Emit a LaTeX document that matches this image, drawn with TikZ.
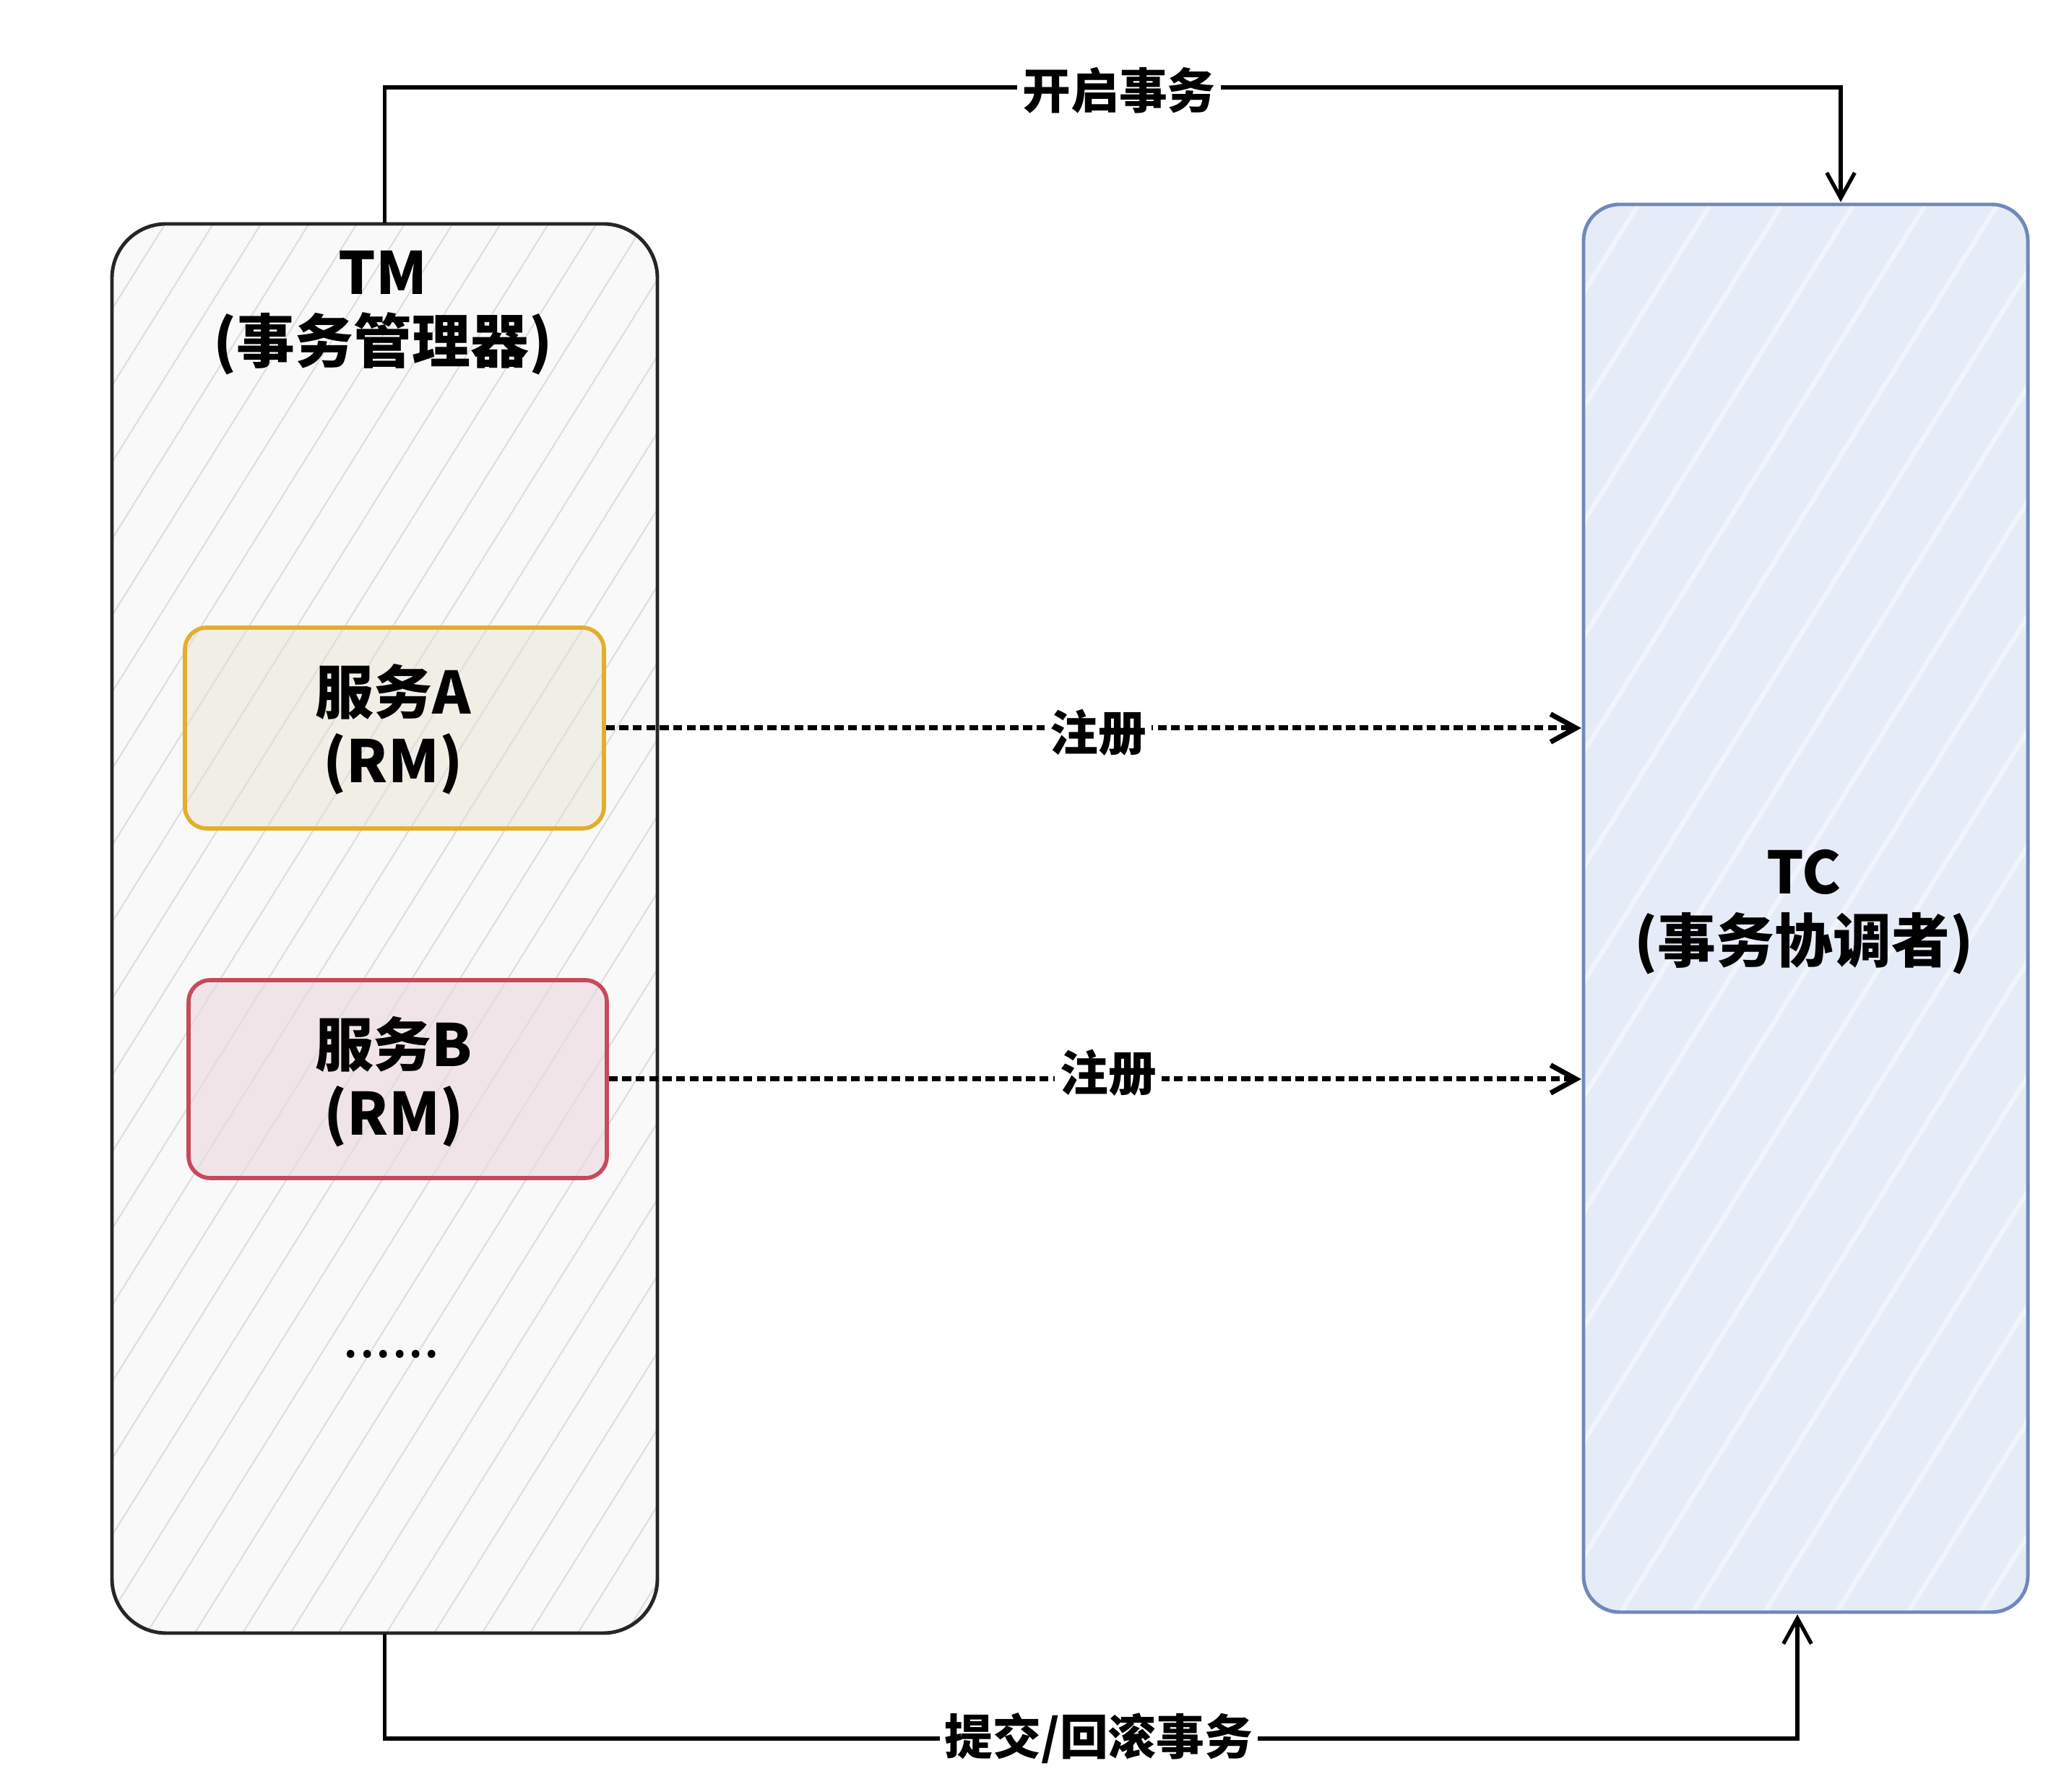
\documentclass[tikz,border=0pt]{standalone}
\usepackage{fontspec}
\setmainfont{Noto Sans CJK SC}
\usetikzlibrary{arrows.meta,patterns.meta}
\definecolor{tmfill}{HTML}{F9F9F9}
\definecolor{tcfill}{HTML}{E5ECF8}
\definecolor{tcline}{HTML}{7088BA}
\definecolor{afill}{HTML}{F1EEE6}
\definecolor{aline}{HTML}{E3AE2C}
\definecolor{bfill}{HTML}{F1E4E8}
\definecolor{bline}{HTML}{C64A5A}
\begin{document}
\begin{tikzpicture}[>={Straight Barb[length=10pt,width=11pt]},
  hatch/.style={pattern={Lines[angle=58,distance=16pt,line width=0.6pt]}, pattern color=black!13},
  tmbox/.style={draw=black!85, line width=1.4pt, rounded corners=0.75cm, preaction={fill=tmfill}, hatch},
  tcbox/.style={draw=tcline, line width=1.4pt, rounded corners=0.5cm, preaction={fill=tcfill}, pattern={Lines[angle=58,distance=24pt,line width=1.8pt]}, pattern color=white!45!tcfill},
  rmbox/.style={line width=1.6pt, rounded corners=0.3cm, hatch},
  title/.style={font=\fontsize{23}{27}\selectfont\bfseries, align=center},
  lbl/.style={fill=white, font=\fontsize{19}{22}\selectfont\bfseries, inner sep=2pt},
  flow/.style={->, line width=1.5pt},
  reg/.style={->, line width=2pt, dash pattern=on 3.5pt off 1.8pt}]
\useasboundingbox (0,0) rectangle (28.64,24.80);
% 事务管理器
\node[tmbox, minimum width=7.55cm, minimum height=19.51cm] (tm) at (5.325,11.945) {};
\node[title] (tmtext) at (5.30,20.47) {TM\\(事务管理器)};
% 资源管理器
\node[rmbox, draw=aline, preaction={fill=afill}, minimum width=5.80cm, minimum height=2.78cm] (svca) at (5.46,14.72) {};
\node[title] (svcatext) at (5.44,14.70) {服务A\\(RM)};
\node[rmbox, draw=bline, preaction={fill=bfill}, minimum width=5.79cm, minimum height=2.74cm] (svcb) at (5.505,9.86) {};
\node[title] (svcbtext) at (5.45,9.82) {服务B\\(RM)};
\node[font=\fontsize{23}{27}\selectfont] (more) at (5.42,6.05) {......};
% 事务协调者
\node[tcbox, minimum width=6.15cm, minimum height=19.49cm] (tc) at (24.995,12.225) {};
\node[title] (tctext) at (24.97,12.17) {TC\\(事务协调者)};
% 开启事务
\coordinate (topturn) at (25.48,23.59);
\draw[flow] (tm.north) |- (topturn) -- (topturn |- tc.north);
\node[lbl] (open) at (15.49,23.55) {开启事务};
% 注册
\draw[reg] (svca.east) -- (svca.east -| tc.west);
\node[lbl] (rega) at (15.20,14.66) {注册};
\draw[reg] (svcb.east) -- (svcb.east -| tc.west);
\node[lbl] (regb) at (15.34,9.95) {注册};
% 提交/回滚事务
\coordinate (botturn) at (24.88,0.73);
\draw[flow] (tm.south) |- (botturn) -- (botturn |- tc.south);
\node[lbl] (close) at (15.21,0.73) {提交/回滚事务};
\end{tikzpicture}
\end{document}
